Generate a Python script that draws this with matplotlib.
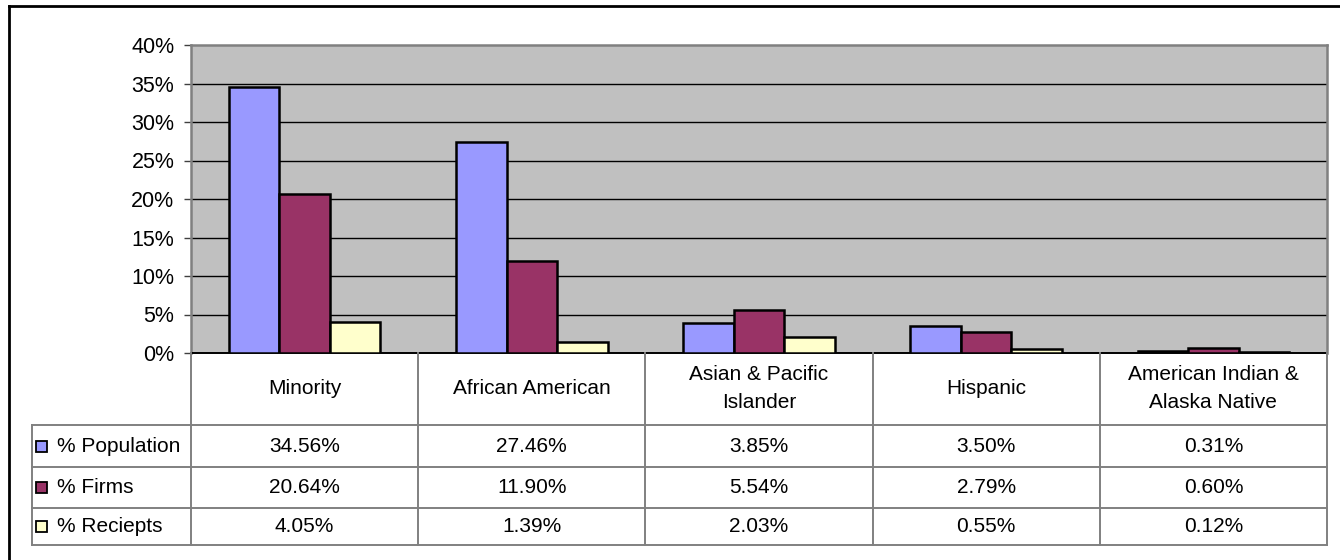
import matplotlib.pyplot as plt
from matplotlib.lines import Line2D
from matplotlib.patches import Rectangle
import numpy as np

plt.rcParams['font.family'] = ['Liberation Sans', 'DejaVu Sans']

categories = ['Minority', 'African American', 'Asian & Pacific\nIslander',
              'Hispanic', 'American Indian &\nAlaska Native']
series_names = ['% Population', '% Firms', '% Reciepts']
population = [34.56, 27.46, 3.85, 3.50, 0.31]
firms = [20.64, 11.90, 5.54, 2.79, 0.60]
receipts = [4.05, 1.39, 2.03, 0.55, 0.12]
colors = ['#9999FF', '#993366', '#FFFFCC']
yticks = [0, 5, 10, 15, 20, 25, 30, 35, 40]

W, H = 1340, 560
fig = plt.figure(figsize=(W / 100, H / 100), dpi=100)

# pixel layout
left, right, top, zero = 191, 1327, 45, 353
row_lines = [425, 467, 508, 545]
tbl_left = 32
fs = 15

ax = fig.add_axes([left / W, 1 - zero / H, (right - left) / W, (zero - top) / H])
ax.set_facecolor('#C0C0C0')
n = len(categories)
x = np.arange(n) + 0.5
w = 1 / 4.5
data = [population, firms, receipts]
for k, (vals, c) in enumerate(zip(data, colors)):
    ax.bar(x + (k - 1) * w, vals, w, color=c, edgecolor='black', linewidth=1.8, zorder=3)

ax.set_xlim(0, n)
ax.set_ylim(0, 40)
ax.set_yticks(yticks)
ax.set_yticklabels([f'{t}%' for t in yticks], fontsize=15.5)
ax.set_xticks([])
for t in yticks[1:-1]:
    ax.axhline(t, color='black', linewidth=1.0, zorder=1)
for s in ['top', 'right', 'left']:
    ax.spines[s].set_color('#808080')
    ax.spines[s].set_linewidth(1.8)
ax.spines['bottom'].set_color('black')
ax.spines['bottom'].set_linewidth(1.4)
ax.tick_params(axis='y', length=5, width=1, color='#404040', pad=7)

# data table drawn in pixel space
tab = fig.add_axes([0, 0, 1, 1])
tab.set_xlim(0, W)
tab.set_ylim(H, 0)
tab.axis('off')
gray = '#808080'
colw = (right - left) / n
col_edges = [left + i * colw for i in range(n + 1)]
for xe in col_edges:
    tab.add_line(Line2D([xe, xe], [zero, row_lines[-1]], color=gray, lw=1.4))
tab.add_line(Line2D([tbl_left, tbl_left], [row_lines[0], row_lines[-1]], color=gray, lw=1.4))
for yr in row_lines:
    tab.add_line(Line2D([tbl_left, right], [yr, yr], color=gray, lw=1.4))

for i, cat in enumerate(categories):
    tab.text(left + (i + 0.5) * colw, (zero + row_lines[0]) / 2, cat,
             ha='center', va='center', fontsize=fs, linespacing=1.6)

for r, (name, vals, c) in enumerate(zip(series_names, data, colors)):
    yc = (row_lines[r] + row_lines[r + 1]) / 2
    tab.add_patch(Rectangle((36, yc - 5.5), 11, 11, facecolor=c, edgecolor='black', lw=1.3))
    tab.text(57, yc, name, ha='left', va='center', fontsize=fs)
    for i, v in enumerate(vals):
        tab.text(left + (i + 0.5) * colw, yc, f'{v:.2f}%', ha='center', va='center', fontsize=fs)

# outer chart border
tab.add_line(Line2D([9, W], [5.5, 5.5], color='black', lw=2))
tab.add_line(Line2D([9, 9], [5.5, H], color='black', lw=2))

fig.savefig('out.png', dpi=100)
